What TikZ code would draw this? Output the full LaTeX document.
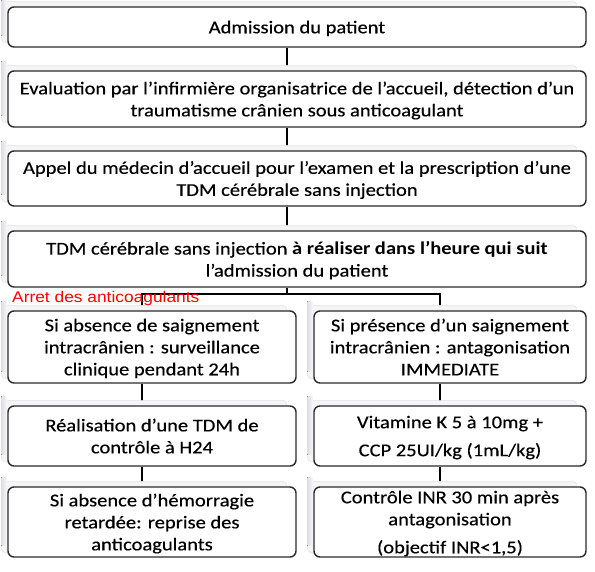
\documentclass[tikz,border=0pt]{standalone}
\usepackage{fontspec}
\setmainfont{Carlito}[FakeStretch=1.14, UprightFeatures={FakeBold=0.35}]
\newfontfamily\redfont{Liberation Sans}[FakeStretch=1.12]
\usetikzlibrary{backgrounds}
\definecolor{boxline}{HTML}{2A2A2A}
\definecolor{shadowfill}{HTML}{F5F5F7}
\definecolor{shadowedge}{HTML}{E4E4E8}
\definecolor{shadowside}{HTML}{DDDDE4}
\tikzset{
  box/.style={draw=boxline, line width=1.4pt, rounded corners=6pt, fill=white,
    align=center, inner sep=0pt, text depth=0pt, font=\fontsize{18}{22}\selectfont, text=black},
  wide/.style={minimum width=578pt},
  half/.style={minimum width=288pt},
  halfr/.style={minimum width=272pt},
  link/.style={draw=black, line width=2pt},
  redlabel/.style={font=\redfont\fontsize{15.5}{18}\selectfont, text=red, inner sep=0pt, anchor=west}
}
\newcommand{\boxshadow}[1]{%
  \fill[shadowfill, draw=shadowedge, line width=0.6pt, rounded corners=4pt]
    ([shift={(-6,-5)}]#1.north west) rectangle ([shift={(-10,-5)}]#1.south east);
  \fill[left color=shadowside, right color=shadowfill]
    ([shift={(-6,-9)}]#1.north west) rectangle ([shift={(-1,-12)}]#1.south west);
}
\begin{document}
\begin{tikzpicture}[x=1pt,y=-1pt]
\useasboundingbox (0,0) rectangle (595,571);

\node[box, wide, minimum height=40pt] (b1) at (297,27) {Admission du patient};
\node[box, wide, minimum height=56pt] (b2) at (297,99)
  {Evaluation par l’infirmière organisatrice de l’accueil, détection d’un\\traumatisme crânien sous anticoagulant};
\node[box, wide, minimum height=55pt] (b3) at (297,178.5)
  {Appel du médecin d’accueil pour l’examen et la prescription d’une\\TDM cérébrale sans injection};
\node[box, wide, minimum height=56pt] (b4) at (297,259)
  {TDM cérébrale sans injection \textbf{à réaliser dans l’heure qui suit}\\l’admission du patient};

\node[box, half, minimum height=72pt] (l1) at (152,347)
  {Si absence de saignement\\intracrânien : surveillance\\clinique pendant 24h};
\node[box, halfr, minimum height=72pt] (r1) at (450,347)
  {Si présence d’un saignement\\intracrânien : antagonisation\\IMMEDIATE};
\node[box, half, minimum height=60pt] (l2) at (152,436)
  {Réalisation d’une TDM de\\contrôle à H24};
\node[box, halfr, minimum height=60pt] (r2) at (450,436)
  {Vitamine K 5 à 10mg +\\[6pt]CCP 25UI/kg (1mL/kg)};
\node[box, half, minimum height=70pt] (l3) at (152,522)
  {Si absence d’hémorragie\\retardée: reprise des\\anticoagulants};
\node[box, halfr, minimum height=70pt] (r3) at (450,522)
  {Contrôle INR 30 min après\\antagonisation\\[6pt](objectif INR<1,5)};

\coordinate (split) at ([xshift=-10pt,yshift=-6pt]b4.south);

\begin{scope}[on background layer]
  \fill[white] (0,0) rectangle (595,571);
  \draw[link] ([xshift=-10pt]b1.south) -- ([xshift=-10pt]b2.north);
  \draw[link] ([xshift=-10pt]b2.south) -- ([xshift=-10pt]b3.north);
  \draw[link] ([xshift=-10pt]b3.south) -- ([xshift=-10pt]b4.north);
  \draw[link] ([xshift=-10pt]b4.south) -- (split);
  \draw[link] ([xshift=-10pt]l1.north) |- (split) -| ([xshift=-10pt]r1.north);
  \draw[link] ([xshift=-10pt]l1.south) -- ([xshift=-10pt]l2.north);
  \draw[link] ([xshift=-10pt]l2.south) -- ([xshift=-10pt]l3.north);
  \draw[link] ([xshift=-10pt]r1.south) -- ([xshift=-10pt]r2.north);
  \draw[link] ([xshift=-10pt]r2.south) -- ([xshift=-10pt]r3.north);
  \foreach \n in {b1,b2,b3,b4,l1,r1,l2,r2,l3,r3}{\boxshadow{\n}}
\end{scope}

\node[redlabel] (stop) at (12,298) {Arret des anticoagulants};
\end{tikzpicture}
\end{document}
